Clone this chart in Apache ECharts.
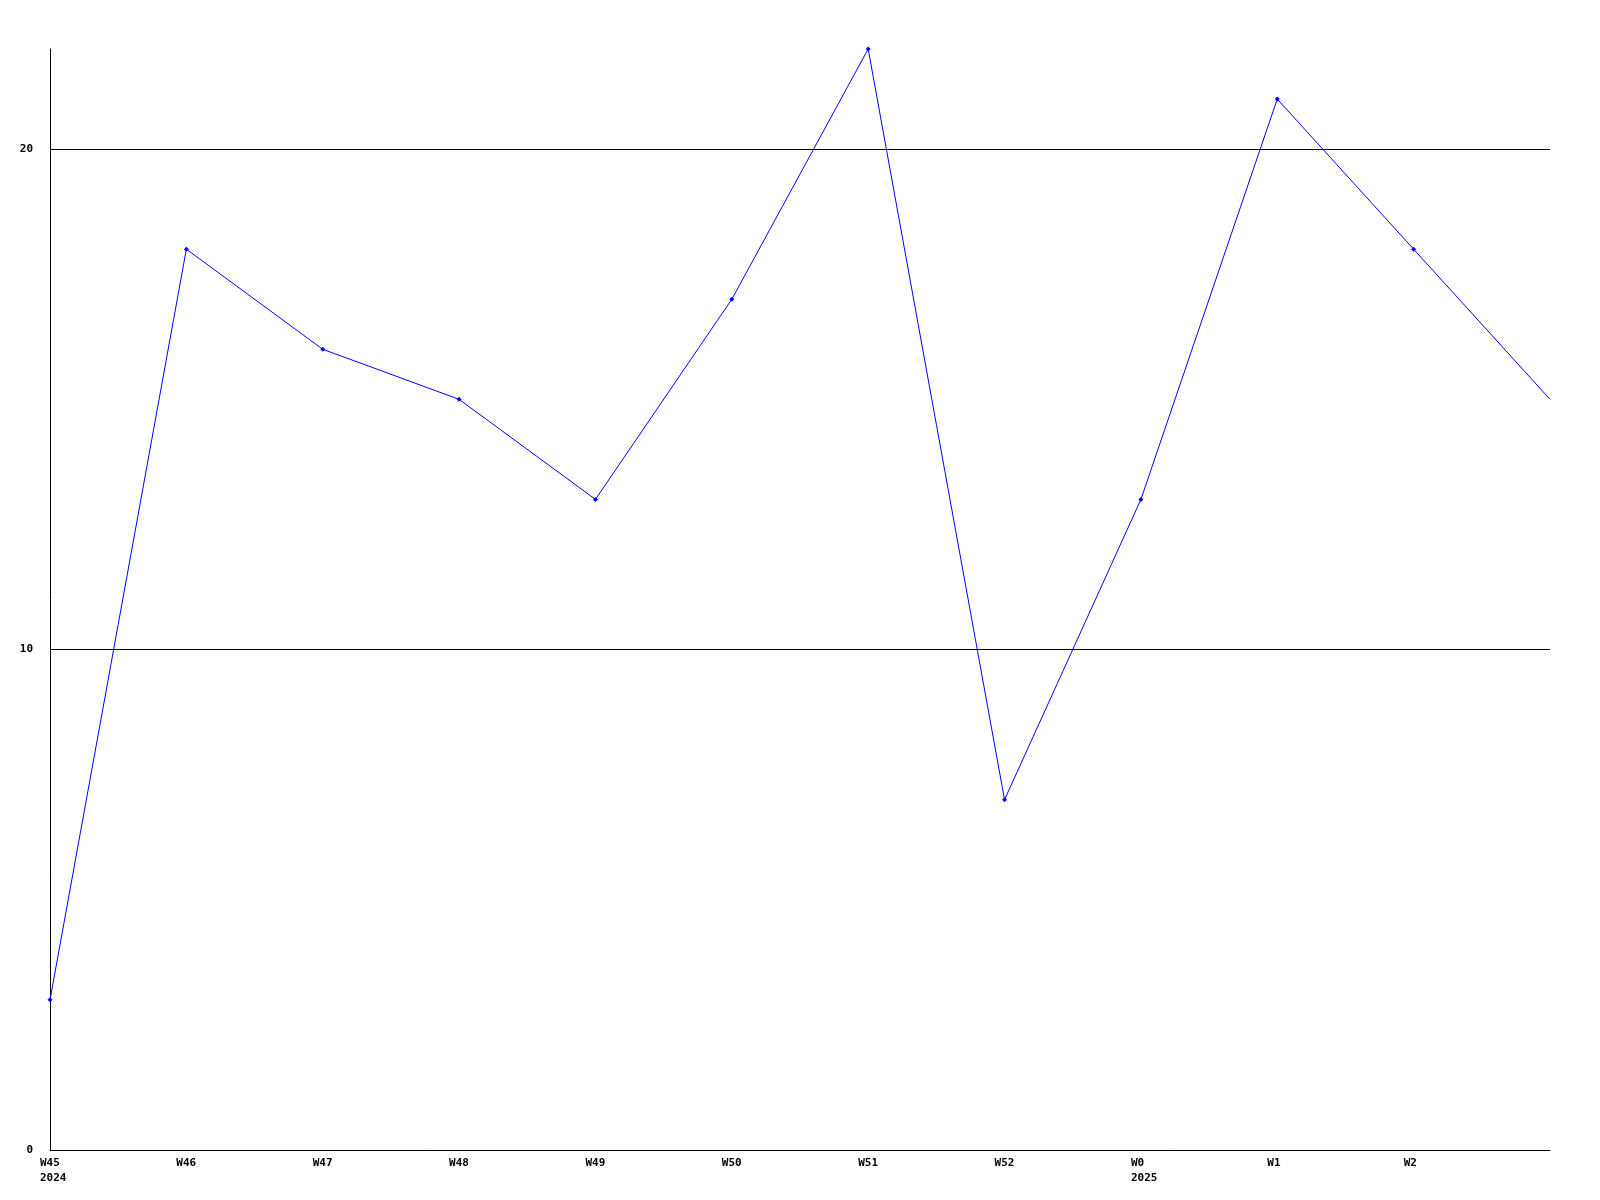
<!DOCTYPE html>
<html><head><meta charset="utf-8">
<script src="https://cdn.jsdelivr.net/npm/echarts@6/dist/echarts.min.js"></script>
<style>html,body{margin:0;padding:0;background:#fff}#c{width:1600px;height:1200px}</style>
</head><body><div id="c"></div>
<script>
const weekLabels = ['W45','W46','W47','W48','W49','W50','W51','W52','W0','W1','W2'];
const yearLabels = ['2024','','','','','','','','2025','',''];
const values = [3, 18, 16, 15, 13, 17, 22, 7, 13, 21, 18, 15];
const yTicks = [0, 10, 20];

const chart = echarts.init(document.getElementById('c'), null, {renderer: 'canvas'});
const font = {fontFamily: 'DejaVu Sans Mono', fontWeight: 'bold', fontSize: 11, color: '#000'};
chart.setOption({
  animation: false,
  backgroundColor: '#fff',
  grid: {left: 50, right: 50, top: 49, bottom: 50, containLabel: false},
  xAxis: {
    type: 'value', min: 0, max: values.length - 1, interval: 1,
    axisLine: {show: true, lineStyle: {color: '#000', width: 1}},
    axisTick: {show: false},
    splitLine: {show: false},
    axisLabel: Object.assign({}, font, {
      margin: 6, lineHeight: 15, align: 'left', padding: [0, 0, 0, -10],
      formatter: function (v) {
        const i = Math.round(v);
        if (i >= weekLabels.length) return '';
        return yearLabels[i] ? weekLabels[i] + '\n' + yearLabels[i] : weekLabels[i];
      }
    })
  },
  yAxis: {
    type: 'value', min: 0, max: 22, interval: 10,
    axisLine: {show: true, lineStyle: {color: '#000', width: 1}},
    axisTick: {show: false},
    splitLine: {show: false},
    axisLabel: Object.assign({}, font, {margin: 17, showMaxLabel: false, padding: [4, 0, 0, 0],
      formatter: function (v) { return yTicks.indexOf(v) >= 0 ? String(v) : ''; }})
  },
  series: [{
    type: 'line',
    data: values.map((v, i) => [i, v]),
    lineStyle: {color: '#0000ff', width: 1},
    itemStyle: {color: '#0000ff'},
    symbol: 'diamond',
    symbolSize: function (val, p) { return p.dataIndex === values.length - 1 ? 0 : 5; },
    showAllSymbol: true,
    markLine: {
      silent: true, symbol: 'none', label: {show: false},
      lineStyle: {color: '#000', width: 1, type: 'solid'},
      data: yTicks.filter(t => t > 0).map(t => ({yAxis: t}))
    },
    z: 3
  }]
});
</script></body></html>
